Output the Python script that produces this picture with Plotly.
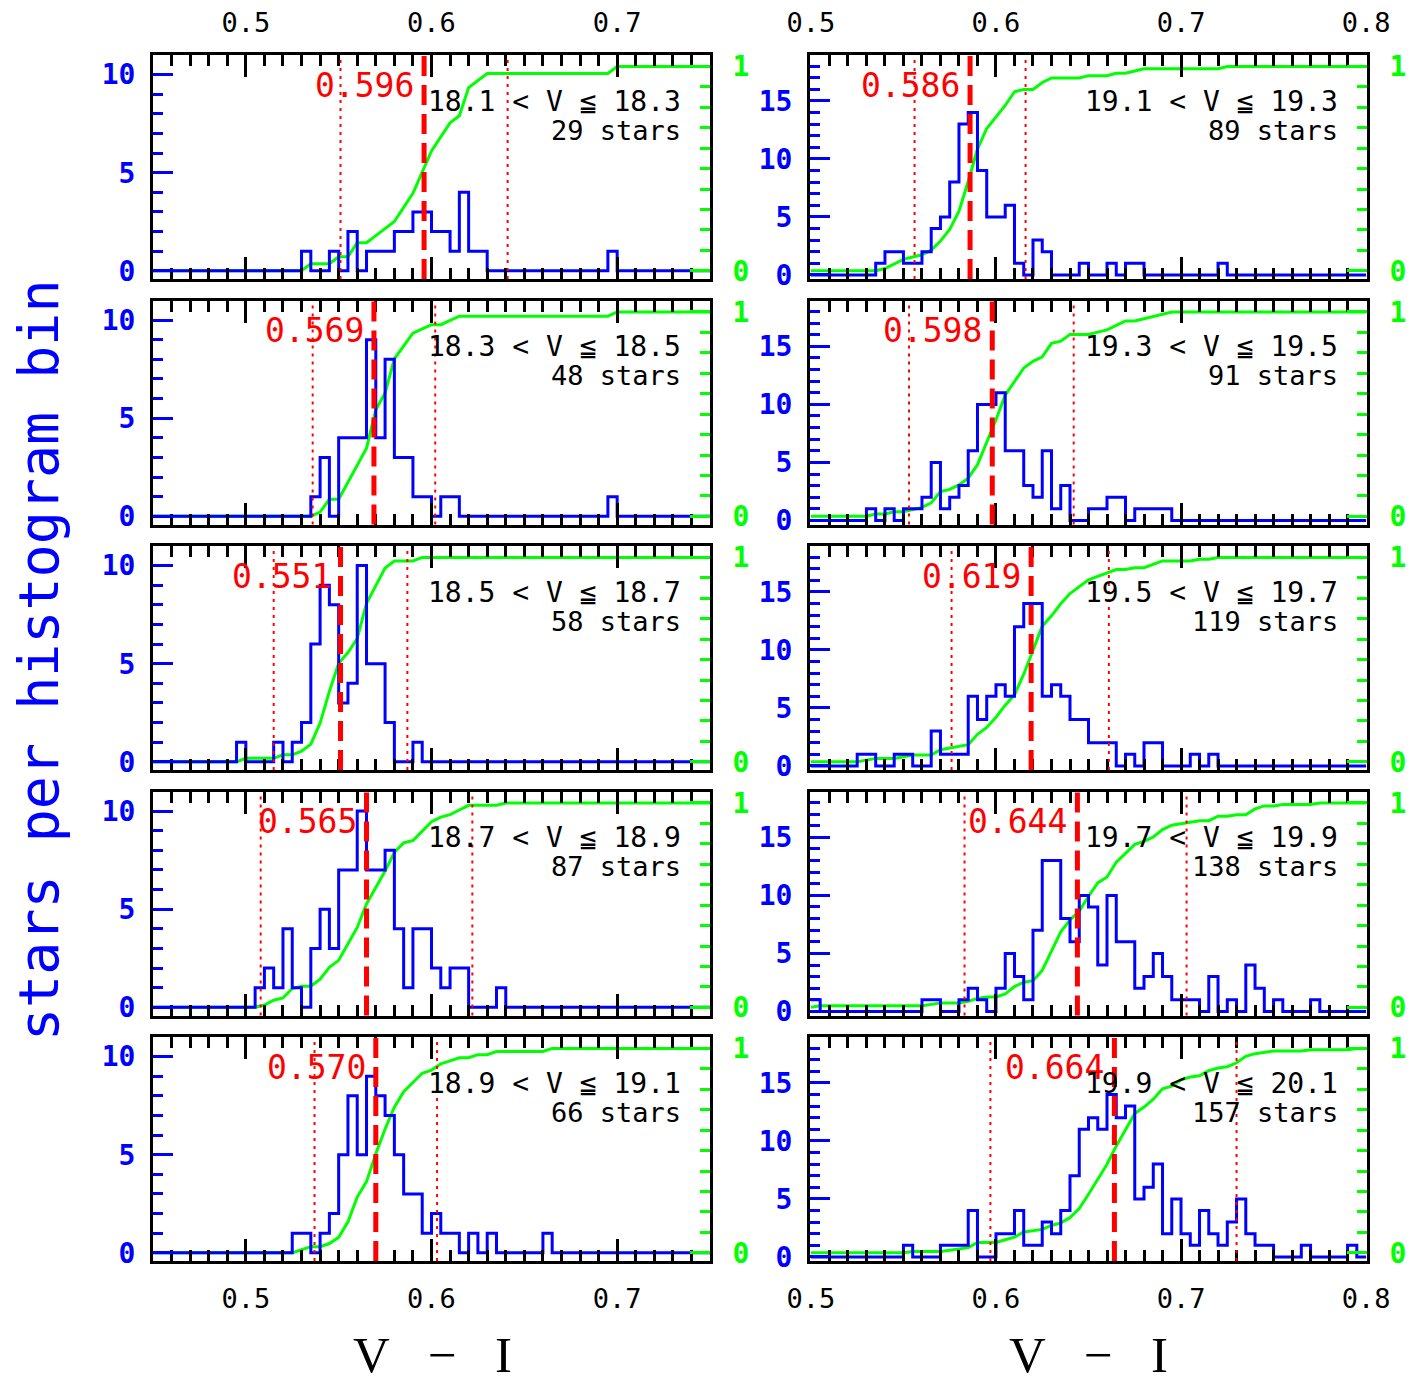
import numpy as np
import plotly.graph_objects as go

# page body has an 8px margin, so the figure is drawn smaller and all
# pixel positions below are page pixels minus that offset
OFF = 8
W, H = 1419 - 2 * OFF, 1386 - 2 * OFF
BIN = 0.005

mag_labels = ["18.1 < V ≦ 18.3", "18.3 < V ≦ 18.5", "18.5 < V ≦ 18.7",
              "18.7 < V ≦ 18.9", "18.9 < V ≦ 19.1", "19.1 < V ≦ 19.3",
              "19.3 < V ≦ 19.5", "19.5 < V ≦ 19.7", "19.7 < V ≦ 19.9",
              "19.9 < V ≦ 20.1"]
n_stars = [29, 48, 58, 87, 66, 89, 91, 119, 138, 157]
medians = [0.596, 0.569, 0.551, 0.565, 0.570, 0.586, 0.598, 0.619, 0.644, 0.664]
lower_dotted = [0.551, 0.536, 0.515, 0.508, 0.537, 0.556, 0.553, 0.576, 0.583, 0.597]
upper_dotted = [0.641, 0.602, 0.587, 0.622, 0.603, 0.616, 0.642, 0.661, 0.703, 0.730]
first_bin = [0.530, 0.535, 0.495, 0.505, 0.525, 0.535, 0.530, 0.525, 0.500, 0.550]

counts_181 = [1, 0, 0, 1, 0, 2, 0, 1, 1, 1, 2, 2, 3, 3, 2, 2, 1, 4, 1, 1,
              0, 0, 0, 0, 0, 0, 0, 0, 0, 0, 0, 0, 0, 1]
counts_183 = [1, 3, 0, 4, 4, 4, 9, 4, 8, 3, 3, 1, 1, 0, 1, 1,
              0, 0, 0, 0, 0, 0, 0, 0, 0, 0, 0, 0, 0, 0, 0, 0, 1]
counts_185 = [1, 0, 0, 0, 1, 0, 1, 2, 6, 9, 8, 3, 4, 10, 5, 5, 2, 0, 0, 1]
counts_187 = [1, 2, 1, 4, 1, 0, 3, 5, 3, 7, 7, 10, 7, 7, 8, 4, 1, 4, 4, 2,
              1, 2, 2, 0, 0, 0, 1]
counts_189 = [1, 1, 0, 1, 2, 5, 8, 5, 9, 8, 7, 5, 3, 3, 1, 2, 1, 1, 0, 1,
              0, 1, 0, 0, 0, 0, 0, 1]
counts_191 = [1, 2, 2, 1, 1, 2, 4, 5, 8, 13, 14, 9, 5, 5, 6, 1, 0, 3, 2,
              0, 0, 0, 1, 0, 0, 1, 0, 1, 1, 0, 0, 0, 0, 0, 0, 0, 0, 1]
counts_193 = [1, 0, 1, 0, 1, 1, 2, 5, 1, 2, 3, 6, 10, 10, 11, 6, 6, 3, 2, 6,
              1, 3, 0, 0, 1, 1, 2, 2, 0, 1, 1, 1, 1]
counts_195 = [1, 1, 0, 0, 1, 1, 0, 0, 3, 1, 1, 1, 6, 4, 6, 7, 6, 12, 14, 14,
              6, 7, 6, 4, 4, 2, 2, 2, 0, 1, 0, 2, 2, 0, 0, 0, 1, 0, 1]
counts_197 = [1, 0, 0, 0, 0, 0, 0, 0, 0, 0, 0, 0,
              1, 1, 0, 0, 1, 2, 1, 0, 2, 5, 3, 1, 7, 13, 13, 8, 6, 10, 9, 4,
              10, 6, 6, 2, 3, 5, 3, 1, 1, 1, 0, 3, 0, 1, 0, 4, 2, 0, 1,
              0, 0, 0, 1]
counts_199 = [1, 0, 0, 0, 1, 1, 1, 4, 0, 0, 2, 2, 4, 1, 1, 3, 2, 4, 7, 11,
              12, 11, 14, 12, 13, 5, 6, 8, 2, 5, 2, 1, 4, 2, 1, 3, 5, 2, 1, 1,
              0, 0, 0, 1, 0, 0, 0, 0, 1]
all_counts = [counts_181, counts_183, counts_185, counts_187, counts_189,
              counts_191, counts_193, counts_195, counts_197, counts_199]

x_ranges = [[0.45, 0.75], [0.5, 0.8]]
x_tickvals = [[0.5, 0.6, 0.7], [0.5, 0.6, 0.7, 0.8]]
blue_ranges = [[-0.42, 11.0], [-0.35, 18.95]]
green_range = [-0.04, 1.056]

col_px = [(153 - OFF, 710 - OFF), (810 - OFF, 1367 - OFF)]
row_top_px = [55 - OFF + 245.5 * r for r in range(5)]
PANEL_H = 224

MONO = "DejaVu Sans Mono"
BLUE = "#0000ff"
GREEN = "#00ff00"
RED = "#ff0000"


def ax_id(prefix, i):
    return prefix if i == 1 else f"{prefix}{i}"


fig = go.Figure()
layout = dict(width=W, height=H, margin=dict(l=0, r=0, t=0, b=0),
              paper_bgcolor="white", plot_bgcolor="white", showlegend=False,
              autosize=False)
shapes, annotations = [], []

for k in range(10):
    col, row = k // 5, k % 5
    xmin, xmax = x_ranges[col]
    nb = int(round((xmax - xmin) / BIN))
    edges = np.round(xmin + BIN * np.arange(nb + 1), 4)
    full = np.zeros(nb)
    i0 = int(round((first_bin[k] - xmin) / BIN))
    full[i0:i0 + len(all_counts[k])] = all_counts[k]
    cum = np.concatenate([[0.0], np.cumsum(full)]) / full.sum()

    xa = ax_id("x", k + 1)
    yg = ax_id("y", 2 * k + 1)
    yb = ax_id("y", 2 * k + 2)

    fig.add_trace(go.Scatter(x=edges, y=cum, mode="lines", xaxis=xa, yaxis=yg,
                             line=dict(color=GREEN, width=3), hoverinfo="skip"))
    fig.add_trace(go.Scatter(x=edges, y=np.append(full, full[-1]), mode="lines",
                             line_shape="hv", xaxis=xa, yaxis=yb,
                             line=dict(color=BLUE, width=3), hoverinfo="skip"))

    x0p, x1p = col_px[col]
    top = row_top_px[row]
    bot = top + PANEL_H
    xdom = [x0p / W, x1p / W]
    ydom = [1 - bot / H, 1 - top / H]

    pad = 0.0005 if col == 1 else 0.0
    layout[ax_id("xaxis", k + 1)] = dict(
        domain=xdom, anchor=yg, range=[xmin - pad, xmax + pad],
        showline=True, linecolor="black", linewidth=3, mirror="ticks",
        ticks="inside", ticklen=22, tickwidth=3, tickcolor="black",
        tickmode="array", tickvals=x_tickvals[col],
        ticktext=[f"{v:.1f}" for v in x_tickvals[col]],
        minor=dict(ticks="inside", ticklen=11, tickwidth=3, tickcolor="black",
                   dtick=0.01, tick0=0.5, showgrid=False),
        showgrid=False, zeroline=False, automargin=False,
        side="top" if row == 0 else "bottom",
        showticklabels=row in (0, 4),
        tickfont=dict(family=MONO, size=27, color="black"),
        ticklabelstandoff=9 if row == 0 else 12,
    )
    layout[ax_id("yaxis", 2 * k + 1)] = dict(
        domain=ydom, anchor=xa, side="right", range=green_range,
        showline=True, linecolor="black", linewidth=3,
        ticks="inside", ticklen=20, tickwidth=3, tickcolor=GREEN,
        tickmode="array", tickvals=[0, 1], ticktext=["0", "1"],
        minor=dict(ticks="inside", ticklen=10, tickwidth=3, tickcolor=GREEN,
                   dtick=0.1, tick0=0, showgrid=False),
        showgrid=False, zeroline=False, automargin=False,
        tickfont=dict(family=MONO, size=28, color=GREEN, weight="bold"),
        ticklabelstandoff=14,
    )
    layout[ax_id("yaxis", 2 * k + 2)] = dict(
        overlaying=yg, anchor=xa, side="left", range=blue_ranges[col],
        showline=True, linecolor="black", linewidth=3,
        ticks="inside", ticklen=20, tickwidth=3, tickcolor=BLUE,
        tick0=0, dtick=5,
        minor=dict(ticks="inside", ticklen=10, tickwidth=3, tickcolor=BLUE,
                   dtick=1, tick0=0, showgrid=False),
        showgrid=False, zeroline=False, automargin=False,
        tickfont=dict(family=MONO, size=28, color=BLUE, weight="bold"),
        ticklabelstandoff=9,
    )

    for xv in (lower_dotted[k], upper_dotted[k]):
        shapes.append(dict(type="line", xref=xa, yref=f"{yg} domain",
                           x0=xv, x1=xv, y0=0, y1=1,
                           line=dict(color=RED, width=2, dash="3px,5px")))
    shapes.append(dict(type="line", xref=xa, yref=f"{yg} domain",
                       x0=medians[k], x1=medians[k], y0=0, y1=1,
                       line=dict(color=RED, width=5, dash="20px,9px")))

    annotations.append(dict(text=f"{medians[k]:.3f}", xref=xa, yref=f"{yg} domain",
                             x=medians[k], y=(bot - (top + 30)) / PANEL_H,
                             xanchor="right", yanchor="middle", xshift=-8,
                             showarrow=False,
                             font=dict(family=MONO, size=33, color=RED)))
    annotations.append(dict(text=mag_labels[k], xref=f"{xa} domain", yref=f"{yg} domain",
                            x=0.952, y=(bot - (top + 46)) / PANEL_H,
                            xanchor="right", yanchor="middle", showarrow=False,
                            font=dict(family=MONO, size=28, color="black")))
    annotations.append(dict(text=f"{n_stars[k]} stars", xref=f"{xa} domain",
                            yref=f"{yg} domain",
                            x=0.952, y=(bot - (top + 75)) / PANEL_H,
                            xanchor="right", yanchor="middle", showarrow=False,
                            font=dict(family=MONO, size=27, color="black")))

annotations.append(dict(text="stars per histogram bin", xref="paper", yref="paper",
                        x=(39 - OFF) / W, y=1 - (660 - OFF) / H, textangle=-90,
                        showarrow=False, xanchor="center", yanchor="middle",
                        font=dict(family=MONO, size=55, color=BLUE)))
for cx in (432, 1088):
    annotations.append(dict(text="V&nbsp;&nbsp;&nbsp;−&nbsp;&nbsp;&nbsp;I",
                            xref="paper", yref="paper",
                            x=(cx - OFF) / W, y=1 - (1355 - OFF) / H, showarrow=False,
                            xanchor="center", yanchor="middle",
                            font=dict(family="Liberation Serif", size=51, color="black")))

layout["shapes"] = shapes
layout["annotations"] = annotations
fig.update_layout(**layout)
fig.write_html("out.html")
